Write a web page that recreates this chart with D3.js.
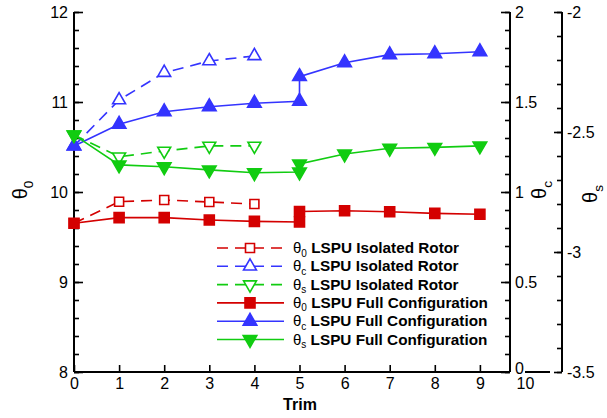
<!DOCTYPE html>
<html><head><meta charset="utf-8">
<script src="https://cdn.jsdelivr.net/npm/d3@7"></script>
<style>body{margin:0;background:#fff}svg{display:block;font-family:"Liberation Sans",Arial,sans-serif}</style>
</head><body><svg id="c" width="607" height="418"></svg>
<script>
const trimIso = [0, 1, 2, 3, 4];
const theta0Iso = [9.652, 9.892, 9.911, 9.889, 9.867];
const thetaCIso = [1.256, 1.511, 1.663, 1.728, 1.756];
const thetaSIso = [-2.512, -2.603, -2.579, -2.558, -2.558];
const trimFull = [0, 1, 2, 3, 4, 5, 5, 6, 7, 8, 9];
const theta0Full = [9.652, 9.715, 9.715, 9.689, 9.674, 9.667, 9.783, 9.792, 9.781, 9.763, 9.752];
const thetaCFull = [1.256, 1.376, 1.446, 1.474, 1.493, 1.504, 1.641, 1.718, 1.763, 1.768, 1.779];
const thetaSFull = [-2.512, -2.637, -2.645, -2.658, -2.670, -2.667, -2.633, -2.592, -2.568, -2.564, -2.558];
const xTicks = [0,1,2,3,4,5,6,7,8,9,10];
const y0Ticks = [8,9,10,11,12];
const yCTicks = [0,0.5,1,1.5,2];
const ySTicks = [-3.5,-3,-2.5,-2];
const legendLabels = [
  ["0","LSPU Isolated Rotor"],["c","LSPU Isolated Rotor"],["s","LSPU Isolated Rotor"],
  ["0","LSPU Full Configuration"],["c","LSPU Full Configuration"],["s","LSPU Full Configuration"]];

const RED="#d40000", BLUE="#3434ff", GREEN="#11cc11";
const svg = d3.select("#c");
const x = d3.scaleLinear().domain([0,10]).range([74,525]);
const y0 = d3.scaleLinear().domain([8,12]).range([372,12]);
const yC = d3.scaleLinear().domain([0,2]).range([372,12]);
const yS = d3.scaleLinear().domain([-3.5,-2]).range([372,12]);
const xRight = 510, xS = 562;
const fmt = d => String(d);

function styleAxis(g){
  g.selectAll("path.domain").remove();
  g.selectAll("line").attr("stroke","#000").attr("stroke-width",1.6);
  g.selectAll("text").attr("font-size",16).attr("fill","#000").attr("font-family","Liberation Sans, Arial, sans-serif");
}
// axis lines
const ax = svg.append("g").attr("stroke","#000").attr("stroke-width",2);
ax.append("line").attr("x1",x(0)).attr("x2",xRight).attr("y1",y0(8)).attr("y2",y0(8));
ax.append("line").attr("x1",x(0)).attr("x2",x(0)).attr("y1",y0(8)).attr("y2",y0(12));
ax.append("line").attr("x1",xRight).attr("x2",xRight).attr("y1",yC(0)).attr("y2",yC(2));
ax.append("line").attr("x1",xS).attr("x2",xS).attr("y1",yS(-3.5)).attr("y2",yS(-2));
ax.append("line").attr("x1",x(10)).attr("x2",x(10)+25).attr("y1",y0(8)).attr("y2",y0(8));

// left axis
svg.append("g").attr("transform",`translate(${x(0)},0)`)
  .call(d3.axisLeft(y0).tickValues(d3.range(8,12.01,0.2)).tickSize(-5).tickFormat(""))
  .call(styleAxis);
svg.append("g").attr("transform",`translate(${x(0)},0)`)
  .call(d3.axisLeft(y0).tickValues(y0Ticks).tickSize(-9).tickPadding(6).tickFormat(fmt))
  .call(styleAxis);
// bottom axis
const gx = svg.append("g").attr("transform",`translate(0,${y0(8)})`)
  .call(d3.axisBottom(x).tickValues(xTicks).tickSize(-7).tickPadding(6).tickFormat(fmt))
  .call(styleAxis);
gx.selectAll(".tick").filter(d=>d===10).select("line").remove();
// right theta_c axis
svg.append("g").attr("transform",`translate(${xRight},0)`)
  .call(d3.axisRight(yC).tickValues(d3.range(0,2.001,0.1)).tickSize(-5).tickFormat(""))
  .call(styleAxis);
const gc = svg.append("g").attr("transform",`translate(${xRight},0)`)
  .call(d3.axisRight(yC).tickValues(yCTicks).tickSize(-9).tickPadding(5).tickFormat(fmt))
  .call(styleAxis);
gc.selectAll(".tick").filter(d=>d===0).select("text").attr("dy","0.1em");
// theta_s axis
svg.append("g").attr("transform",`translate(${xS},0)`)
  .call(d3.axisRight(yS).tickValues(d3.range(-3.5,-1.999,0.1)).tickSize(-5).tickFormat(""))
  .call(styleAxis);
svg.append("g").attr("transform",`translate(${xS},0)`)
  .call(d3.axisRight(yS).tickValues(ySTicks).tickSize(-8).tickPadding(5).tickFormat(d=>String(d)))
  .call(styleAxis);

// axis titles
function thetaLabel(g, sub, size){
  const t = g.append("text").attr("font-size",size).attr("fill","#000").attr("text-anchor","middle");
  t.append("tspan").text("θ");
  t.append("tspan").attr("font-size",size*0.68).attr("dy",size*0.3).text(sub);
  return t;
}
thetaLabel(svg.append("g").attr("transform","translate(27,190) rotate(-90)"),"0",20);
thetaLabel(svg.append("g").attr("transform","translate(546,190) rotate(-90)"),"c",20);
thetaLabel(svg.append("g").attr("transform","translate(597,194) rotate(-90)"),"s",20);
svg.append("text").attr("x",300).attr("y",410).attr("text-anchor","middle")
  .attr("font-size",16).attr("font-weight","bold").text("Trim");

// series
const series = [
  {xs:trimIso, ys:theta0Iso, sc:y0, c:RED, dash:"11,7", sym:d3.symbolSquare, size:81, fill:false},
  {xs:trimIso, ys:thetaCIso, sc:yC, c:BLUE, dash:"11,7", sym:d3.symbolTriangle, size:72, fill:false, rot:0},
  {xs:trimIso, ys:thetaSIso, sc:yS, c:GREEN, dash:"11,7", sym:d3.symbolTriangle, size:72, fill:false, rot:180},
  {xs:trimFull, ys:theta0Full, sc:y0, c:RED, dash:null, sym:d3.symbolSquare, size:100, fill:true},
  {xs:trimFull, ys:thetaCFull, sc:yC, c:BLUE, dash:null, sym:d3.symbolTriangle, size:80, fill:true, rot:0},
  {xs:trimFull, ys:thetaSFull, sc:yS, c:GREEN, dash:null, sym:d3.symbolTriangle, size:80, fill:true, rot:180},
];
series.forEach(s=>{
  const pts = s.xs.map((v,i)=>[x(v), s.sc(s.ys[i])]);
  svg.append("path").attr("d",d3.line()(pts)).attr("fill","none").attr("stroke",s.c)
    .attr("stroke-width",1.6).attr("stroke-dasharray",s.dash);
});
series.forEach(s=>{
  const sym = d3.symbol().type(s.sym).size(s.size);
  s.xs.forEach((v,i)=>{
    svg.append("path").attr("d",sym())
      .attr("transform",`translate(${x(v)},${s.sc(s.ys[i])}) rotate(${s.rot||0})`)
      .attr("fill", s.fill? s.c : "#fff").attr("stroke",s.c).attr("stroke-width",1.6);
  });
});

// legend
const lg = svg.append("g");
const rowY = d3.scaleLinear().domain([0,5]).range([248,339.5]);
series.forEach((s,i)=>{
  const yy = rowY(i);
  lg.append("line").attr("x1",217).attr("x2",284).attr("y1",yy).attr("y2",yy)
    .attr("stroke",s.c).attr("stroke-width",1.6).attr("stroke-dasharray",s.dash ? "11,7" : null);
  lg.append("path").attr("d",d3.symbol().type(s.sym).size(s.size)())
    .attr("transform",`translate(250,${yy}) rotate(${s.rot||0})`)
    .attr("fill", s.fill? s.c : "#fff").attr("stroke",s.c).attr("stroke-width",1.6);
  const t = lg.append("text").attr("x",293).attr("y",yy+5).attr("font-size",15.3).attr("fill","#000");
  t.append("tspan").attr("font-size",15).text("θ");
  t.append("tspan").attr("font-size",10).attr("dy",3.5).text(legendLabels[i][0]);
  t.append("tspan").attr("dy",-3.5).attr("font-weight","bold").text(" " + legendLabels[i][1]);
});
</script></body></html>
